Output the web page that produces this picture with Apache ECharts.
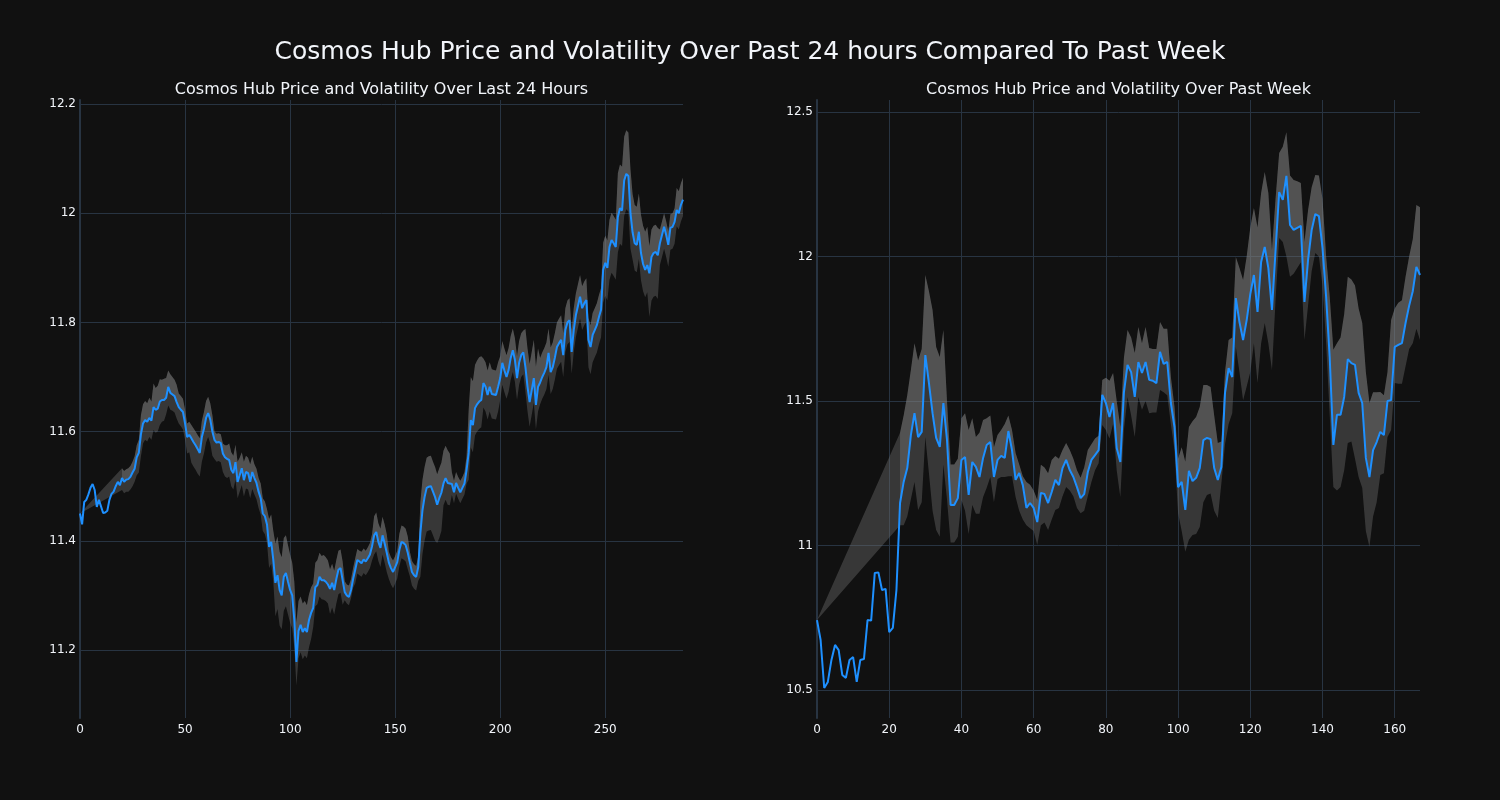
<!DOCTYPE html>
<html>
<head>
<meta charset="utf-8">
<script src="https://cdn.jsdelivr.net/npm/echarts@6/dist/echarts.min.js"></script>
<style>
html,body{margin:0;padding:0;background:#111111;}
#chart{width:1500px;height:800px;}
</style>
</head>
<body>
<div id="chart"></div>
<script>
// ---------- DATA ----------
const titleMain = "Cosmos Hub Price and Volatility Over Past 24 hours Compared To Past Week";
const titleLeft = "Cosmos Hub Price and Volatility Over Last 24 Hours";
const titleRight = "Cosmos Hub Price and Volatility Over Past Week";

const xTicksL = [0, 50, 100, 150, 200, 250];
const yTicksL = [11.2, 11.4, 11.6, 11.8, 12, 12.2];
const xTicksR = [0, 20, 40, 60, 80, 100, 120, 140, 160];
const yTicksR = [10.5, 11, 11.5, 12, 12.5];

const priceL = [
11.450,11.430,11.471,11.475,11.485,11.497,11.504,11.493,11.462,11.475,
11.463,11.451,11.452,11.455,11.475,11.486,11.490,11.500,11.508,11.502,
11.515,11.508,11.512,11.513,11.517,11.525,11.532,11.553,11.561,11.595,
11.615,11.621,11.618,11.625,11.620,11.645,11.640,11.642,11.655,11.658,
11.658,11.662,11.682,11.671,11.668,11.665,11.654,11.645,11.640,11.636,
11.615,11.590,11.594,11.588,11.581,11.575,11.568,11.561,11.590,11.605,
11.625,11.634,11.622,11.600,11.585,11.580,11.581,11.579,11.560,11.553,
11.550,11.548,11.530,11.524,11.544,11.508,11.520,11.533,11.511,11.526,
11.524,11.508,11.526,11.515,11.506,11.490,11.478,11.450,11.445,11.430,
11.389,11.398,11.365,11.323,11.337,11.310,11.300,11.334,11.341,11.325,
11.310,11.300,11.255,11.178,11.235,11.246,11.233,11.240,11.233,11.255,
11.268,11.277,11.315,11.319,11.334,11.328,11.328,11.325,11.320,11.312,
11.323,11.310,11.330,11.347,11.350,11.328,11.306,11.300,11.297,11.310,
11.330,11.347,11.365,11.362,11.359,11.366,11.362,11.368,11.375,11.390,
11.410,11.416,11.398,11.387,11.410,11.395,11.378,11.360,11.350,11.343,
11.352,11.361,11.383,11.398,11.396,11.392,11.378,11.360,11.343,11.337,
11.334,11.352,11.414,11.456,11.480,11.497,11.499,11.500,11.490,11.480,
11.466,11.478,11.488,11.505,11.515,11.506,11.505,11.504,11.489,11.506,
11.497,11.489,11.497,11.505,11.530,11.561,11.621,11.612,11.643,11.650,
11.655,11.658,11.689,11.682,11.667,11.682,11.669,11.668,11.667,11.682,
11.698,11.726,11.712,11.700,11.713,11.735,11.749,11.731,11.698,11.726,
11.740,11.745,11.718,11.682,11.654,11.676,11.698,11.649,11.682,11.690,
11.700,11.708,11.718,11.744,11.709,11.718,11.735,11.755,11.762,11.768,
11.740,11.786,11.800,11.804,11.746,11.786,11.813,11.830,11.847,11.826,
11.835,11.841,11.768,11.755,11.777,11.786,11.795,11.810,11.823,11.896,
11.909,11.900,11.938,11.951,11.945,11.938,11.993,12.009,12.005,12.060,
12.072,12.068,12.000,11.965,11.945,11.942,11.966,11.927,11.907,11.896,
11.905,11.890,11.920,11.927,11.929,11.923,11.945,11.960,11.975,11.960,
11.942,11.973,11.975,11.984,12.006,12.000,12.015,12.025
];

const upperL = [
11.450,null,null,null,null,null,null,null,null,null,
null,null,null,null,null,null,null,null,null,null,
11.533,11.528,11.531,11.533,11.537,11.545,11.555,11.575,11.585,11.630,
11.650,11.656,11.652,11.662,11.655,11.688,11.680,11.684,11.696,11.695,
11.697,11.698,11.712,11.705,11.700,11.695,11.686,11.670,11.665,11.660,
11.640,11.615,11.618,11.612,11.606,11.600,11.594,11.588,11.620,11.636,
11.656,11.664,11.652,11.630,11.600,11.596,11.597,11.595,11.578,11.575,
11.575,11.578,11.562,11.556,11.576,11.545,11.552,11.562,11.545,11.556,
11.552,11.540,11.554,11.540,11.532,11.515,11.505,11.478,11.472,11.458,
11.440,11.448,11.418,11.395,11.408,11.380,11.370,11.405,11.410,11.392,
11.375,11.360,11.325,11.250,11.290,11.298,11.285,11.290,11.282,11.302,
11.315,11.322,11.360,11.365,11.378,11.372,11.374,11.370,11.364,11.348,
11.358,11.345,11.365,11.382,11.384,11.362,11.326,11.320,11.318,11.330,
11.350,11.368,11.385,11.382,11.380,11.386,11.382,11.388,11.396,11.412,
11.445,11.452,11.432,11.422,11.444,11.430,11.412,11.380,11.370,11.364,
11.372,11.382,11.413,11.428,11.426,11.422,11.408,11.380,11.363,11.357,
11.354,11.372,11.470,11.512,11.535,11.552,11.555,11.556,11.545,11.535,
11.522,11.533,11.543,11.565,11.574,11.566,11.560,11.525,11.510,11.526,
11.517,11.510,11.517,11.526,11.555,11.640,11.700,11.692,11.722,11.730,
11.736,11.738,11.734,11.727,11.712,11.727,11.714,11.713,11.712,11.727,
11.738,11.766,11.752,11.740,11.753,11.775,11.789,11.771,11.738,11.766,
11.780,11.785,11.788,11.752,11.724,11.746,11.768,11.719,11.752,11.735,
11.745,11.753,11.763,11.789,11.754,11.763,11.780,11.800,11.807,11.813,
11.780,11.826,11.840,11.844,11.786,11.826,11.853,11.870,11.887,11.866,
11.875,11.881,11.808,11.795,11.817,11.826,11.835,11.850,11.863,11.946,
11.959,11.950,11.988,12.001,11.995,11.988,12.073,12.089,12.085,12.140,
12.152,12.148,12.080,12.035,12.015,12.012,12.036,11.997,11.977,11.966,
11.975,11.940,11.970,11.977,11.979,11.973,11.970,11.985,12.000,11.985,
11.967,11.998,12.000,12.009,12.046,12.040,12.055,12.065
];

const lowerL = [
11.450,null,null,null,null,null,null,null,null,null,
null,null,null,null,null,null,null,null,null,null,
11.493,11.487,11.490,11.490,11.494,11.500,11.508,11.520,11.525,11.555,
11.578,11.585,11.582,11.590,11.585,11.603,11.598,11.600,11.612,11.618,
11.620,11.632,11.648,11.640,11.638,11.635,11.624,11.615,11.610,11.604,
11.585,11.560,11.562,11.543,11.536,11.530,11.523,11.518,11.545,11.560,
11.580,11.590,11.578,11.556,11.550,11.545,11.546,11.544,11.526,11.518,
11.515,11.518,11.500,11.494,11.512,11.478,11.490,11.502,11.481,11.496,
11.494,11.478,11.495,11.485,11.476,11.460,11.448,11.418,11.412,11.396,
11.350,11.358,11.325,11.262,11.275,11.245,11.238,11.272,11.280,11.265,
11.250,11.240,11.205,11.135,11.185,11.196,11.183,11.190,11.185,11.205,
11.220,11.242,11.280,11.284,11.298,11.293,11.292,11.290,11.285,11.266,
11.278,11.265,11.285,11.302,11.305,11.283,11.291,11.285,11.282,11.295,
11.314,11.322,11.340,11.337,11.334,11.341,11.337,11.343,11.350,11.364,
11.375,11.381,11.363,11.352,11.375,11.360,11.343,11.330,11.320,11.313,
11.322,11.331,11.353,11.368,11.366,11.362,11.348,11.335,11.318,11.312,
11.309,11.327,11.334,11.376,11.400,11.417,11.419,11.420,11.410,11.400,
11.396,11.405,11.418,11.465,11.475,11.466,11.465,11.484,11.469,11.486,
11.477,11.469,11.477,11.485,11.505,11.512,11.571,11.562,11.593,11.600,
11.605,11.608,11.644,11.637,11.622,11.637,11.624,11.623,11.622,11.637,
11.658,11.686,11.672,11.660,11.673,11.695,11.709,11.691,11.658,11.686,
11.700,11.705,11.673,11.637,11.609,11.631,11.653,11.604,11.637,11.650,
11.660,11.668,11.678,11.704,11.669,11.678,11.695,11.715,11.722,11.728,
11.700,11.746,11.760,11.764,11.706,11.746,11.773,11.790,11.807,11.786,
11.795,11.801,11.718,11.705,11.727,11.736,11.745,11.760,11.773,11.836,
11.849,11.840,11.878,11.891,11.885,11.878,11.928,11.944,11.940,11.995,
12.007,12.003,11.935,11.915,11.895,11.892,11.916,11.877,11.857,11.846,
11.855,11.810,11.840,11.847,11.849,11.843,11.905,11.920,11.935,11.920,
11.902,11.933,11.935,11.944,11.976,11.970,11.985,11.995
];

const priceR = [
10.742,10.673,10.507,10.528,10.604,10.656,10.638,10.552,10.542,10.604,
10.614,10.528,10.604,10.607,10.742,10.740,10.905,10.907,10.846,10.850,
10.700,10.715,10.846,11.147,11.220,11.268,11.382,11.458,11.375,11.393,
11.659,11.562,11.458,11.372,11.341,11.493,11.365,11.140,11.140,11.164,
11.296,11.306,11.175,11.289,11.272,11.237,11.303,11.348,11.358,11.237,
11.296,11.310,11.303,11.396,11.330,11.227,11.251,11.209,11.130,11.147,
11.130,11.081,11.182,11.178,11.147,11.185,11.227,11.209,11.268,11.296,
11.261,11.237,11.202,11.164,11.178,11.254,11.296,11.313,11.330,11.521,
11.493,11.445,11.493,11.337,11.289,11.530,11.625,11.600,11.514,11.635,
11.597,11.635,11.573,11.570,11.562,11.670,11.628,11.635,11.493,11.410,
11.202,11.220,11.123,11.258,11.223,11.234,11.268,11.365,11.372,11.368,
11.268,11.227,11.272,11.528,11.614,11.583,11.856,11.773,11.711,11.780,
11.870,11.936,11.808,11.981,12.033,11.960,11.815,12.022,12.223,12.196,
12.279,12.109,12.092,12.099,12.106,11.843,11.988,12.092,12.147,12.140,
12.030,11.860,11.649,11.348,11.452,11.452,11.514,11.645,11.631,11.625,
11.528,11.493,11.303,11.237,11.330,11.358,11.393,11.382,11.500,11.503,
11.687,11.694,11.700,11.770,11.830,11.880,11.964,11.936
];

const upperR = [
10.742,null,null,null,null,null,null,null,null,null,
null,null,null,null,null,null,null,null,null,null,
null,null,null,11.390,11.450,11.520,11.607,11.700,11.640,11.680,
11.936,11.880,11.815,11.687,11.652,11.746,11.500,11.280,11.280,11.300,
11.440,11.458,11.400,11.440,11.375,11.390,11.434,11.440,11.450,11.340,
11.382,11.400,11.420,11.450,11.400,11.320,11.280,11.240,11.220,11.210,
11.190,11.157,11.279,11.270,11.250,11.296,11.310,11.300,11.330,11.355,
11.330,11.300,11.260,11.234,11.270,11.330,11.350,11.370,11.380,11.573,
11.580,11.570,11.597,11.500,11.410,11.650,11.746,11.720,11.666,11.756,
11.700,11.756,11.683,11.680,11.680,11.773,11.750,11.750,11.583,11.480,
11.300,11.340,11.290,11.410,11.430,11.445,11.479,11.555,11.555,11.548,
11.450,11.355,11.360,11.600,11.711,11.720,11.998,11.960,11.919,12.000,
12.100,12.168,12.100,12.220,12.292,12.220,12.022,12.200,12.358,12.380,
12.430,12.280,12.265,12.260,12.254,12.050,12.160,12.240,12.282,12.280,
12.200,12.000,11.860,11.677,11.700,11.720,11.800,11.930,11.920,11.900,
11.820,11.770,11.600,11.493,11.530,11.530,11.531,11.520,11.600,11.780,
11.820,11.840,11.849,11.930,12.000,12.060,12.178,12.170
];

const lowerR = [
10.742,null,null,null,null,null,null,null,null,null,
null,null,null,null,null,null,null,null,null,null,
null,null,null,11.070,11.070,11.100,11.160,11.220,11.123,11.150,
11.375,11.250,11.120,11.054,11.030,11.280,11.160,11.010,11.010,11.030,
11.157,11.120,11.040,11.140,11.110,11.110,11.168,11.200,11.237,11.150,
11.230,11.237,11.237,11.240,11.240,11.168,11.120,11.090,11.070,11.060,
11.050,11.002,11.070,11.080,11.054,11.090,11.123,11.130,11.170,11.202,
11.190,11.170,11.130,11.112,11.120,11.170,11.220,11.260,11.285,11.417,
11.400,11.370,11.420,11.260,11.168,11.400,11.514,11.450,11.375,11.514,
11.470,11.500,11.458,11.460,11.460,11.538,11.530,11.520,11.420,11.330,
11.112,11.050,10.978,11.020,11.036,11.040,11.064,11.150,11.175,11.180,
11.120,11.095,11.216,11.350,11.420,11.458,11.687,11.600,11.503,11.550,
11.600,11.700,11.562,11.700,11.770,11.700,11.607,11.850,12.064,12.050,
12.000,11.930,11.940,11.960,11.980,11.711,11.830,11.950,12.012,12.000,
11.900,11.700,11.450,11.202,11.190,11.202,11.260,11.355,11.360,11.300,
11.237,11.200,11.050,10.995,11.100,11.150,11.244,11.250,11.375,11.400,
11.562,11.560,11.560,11.620,11.680,11.700,11.750,11.711
];

// ---------- BUILD ----------
const FONT = "DejaVu Sans";
const TXT = "#f2f5fa";
const GRIDC = "#283442";

// Volatility band drawn as polygons, every vertex placed through the axis scales (api.coord)
function bandSeries(price, upper, lower, axisIdx) {
  let firstValid = -1;
  for (let i = 1; i < upper.length; i++) { if (upper[i] != null) { firstValid = i; break; } }
  return {
    type: 'custom', xAxisIndex: axisIdx, yAxisIndex: axisIdx, silent: true, clip: true, z: 1,
    data: [[0, price[0]]],
    renderItem: function (params, api) {
      const upPts = [], loPts = [], upValid = [], prValid = [];
      for (let i = 0; i < upper.length; i++) {
        if (upper[i] == null) continue;
        upPts.push(api.coord([i, upper[i]]));
        loPts.push(api.coord([i, lower[i]]));
        if (i >= firstValid) {
          upValid.push(api.coord([i, upper[i]]));
          prValid.push(api.coord([i, price[i]]));
        }
      }
      return {
        type: 'group',
        children: [
          {type: 'polygon', shape: {points: upPts.concat(loPts.reverse())},
           style: {fill: 'rgba(110,110,110,0.42)'}},
          {type: 'polygon', shape: {points: upValid.concat(prValid.reverse())},
           style: {fill: 'rgba(140,140,140,0.33)'}}
        ]
      };
    }
  };
}
function priceSeries(price, axisIdx) {
  return {
    type: 'line', xAxisIndex: axisIdx, yAxisIndex: axisIdx, symbol: 'none', silent: true, z: 5,
    data: price.map((v, i) => [i, v]),
    lineStyle: {width: 2, color: 'rgb(30,144,255)'}
  };
}

function xAxisDef(idx, max, ticks) {
  return {
    type: 'value', gridIndex: idx, min: 0, max: max,
    axisLine: {show: false}, axisTick: {show: false, customValues: ticks},
    axisLabel: {customValues: ticks, color: TXT, fontSize: 12, fontFamily: FONT, margin: 6},
    splitLine: {show: true, lineStyle: {color: GRIDC, width: 1}}
  };
}
function yAxisDef(idx, min, max, ticks) {
  return {
    type: 'value', gridIndex: idx, min: min, max: max,
    axisLine: {show: true, onZero: false, lineStyle: {color: GRIDC, width: 2}},
    axisTick: {show: false, customValues: ticks},
    axisLabel: {customValues: ticks, color: TXT, fontSize: 12, fontFamily: FONT, margin: 4},
    splitLine: {show: true, lineStyle: {color: GRIDC, width: 1}}
  };
}

const chart = echarts.init(document.getElementById('chart'), null, {renderer: 'canvas'});
chart.setOption({
  backgroundColor: '#111111',
  animation: false,
  title: [
    {text: titleMain, left: 'center', top: 35,
     textStyle: {color: TXT, fontSize: 25, fontWeight: 'normal', fontFamily: FONT}},
    {text: titleLeft, left: 376.5, textAlign: 'center', top: 77,
     textStyle: {color: TXT, fontSize: 16, fontWeight: 'normal', fontFamily: FONT}},
    {text: titleRight, left: 1113.5, textAlign: 'center', top: 77,
     textStyle: {color: TXT, fontSize: 16, fontWeight: 'normal', fontFamily: FONT}}
  ],
  grid: [
    {left: 80, top: 100, width: 603, height: 618},
    {left: 817, top: 100, width: 603, height: 618}
  ],
  xAxis: [xAxisDef(0, priceL.length - 1, xTicksL), xAxisDef(1, priceR.length - 1, xTicksR)],
  yAxis: [yAxisDef(0, 11.0755, 12.2073, yTicksL), yAxisDef(1, 10.4031, 12.5415, yTicksR)],
  series: [
    bandSeries(priceL, upperL, lowerL, 0),
    priceSeries(priceL, 0),
    bandSeries(priceR, upperR, lowerR, 1),
    priceSeries(priceR, 1)
  ]
});
</script>
</body>
</html>
